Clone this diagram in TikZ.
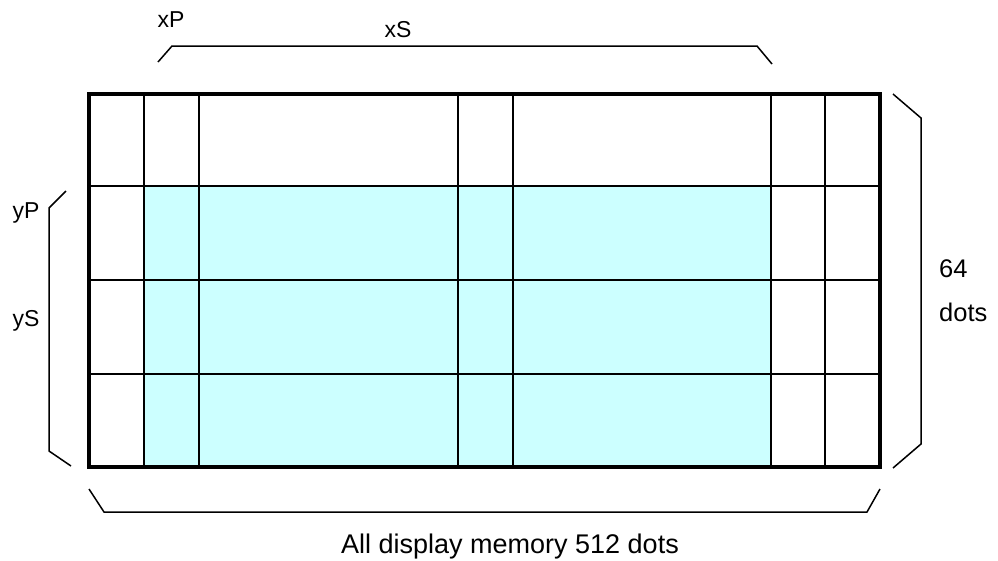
\documentclass[tikz,border=0pt]{standalone}
\usepackage{fontspec}
\setmainfont{Liberation Sans}
\definecolor{cellcyan}{HTML}{CCFFFF}
\begin{document}
\begin{tikzpicture}[x=1pt,y=-1pt,
  lbl/.style={inner sep=0pt,anchor=base,font=\fontsize{23}{26}\selectfont},
  sidelbl/.style={inner sep=0pt,anchor=base west,font=\fontsize{25.5}{28}\selectfont},
  biglbl/.style={inner sep=0pt,anchor=base,font=\fontsize{27}{30}\selectfont},
  thin/.style={line width=1.5pt},
  thick/.style={line width=2.5pt},
  frame/.style={line width=4pt},
  brace/.style={line width=1.5pt,line join=miter}]
\useasboundingbox (0,0) rectangle (998,560);
% cyan area
\fill[cellcyan] (144,186) rectangle (771,467);
% inner grid
\foreach \x in {144,199,458,771,825} \draw[thin] (\x,94) -- (\x,467);
\foreach \y in {186,280,374} \draw[thin] (89,\y) -- (880,\y);
\draw[thick] (513,94) -- (513,467);
\draw[frame] (89,94) rectangle (880,467);
% braces
\draw[brace] (158,62) -- (172,46) -- (757,46) -- (772,64);
\draw[brace] (66,191) -- (49,208) -- (49,451) -- (71,466);
\draw[brace] (893,94) -- (921,118) -- (921,444) -- (893,468);
\draw[brace] (89,489) -- (104,512) -- (867,512) -- (880,489);
% labels
\node[lbl] (xP) at (171,27) {xP};
\node[lbl] (xS) at (398,37) {xS};
\node[lbl] (yP) at (26,218) {yP};
\node[lbl] (yS) at (26,326) {yS};
\node[sidelbl] (n64) at (939,277) {64};
\node[sidelbl] (dots) at (939,321) {dots};
\node[biglbl] (all) at (510,553) {All display memory 512 dots};
\end{tikzpicture}
\end{document}
